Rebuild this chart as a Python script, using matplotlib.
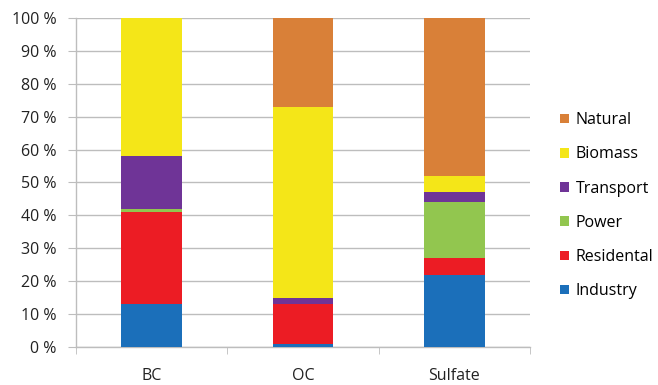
import matplotlib
matplotlib.use("Agg")
import matplotlib.pyplot as plt
import numpy as np
from matplotlib.patches import Patch

plt.rcParams['font.family'] = ['Open Sans', 'DejaVu Sans']

categories = ["BC", "OC", "Sulfate"]
sources = ["Industry", "Residental", "Power", "Transport", "Biomass", "Natural"]
industry = [13, 1, 22]
residental = [28, 12, 5]
power = [1, 0, 17]
transport = [16, 2, 3]
biomass = [42, 58, 5]
natural = [0, 27, 48]
series = [industry, residental, power, transport, biomass, natural]
colors = ["#1b6fba", "#ec1c24", "#92c64f", "#6f3497", "#f4e618", "#d98038"]

fig = plt.figure(figsize=(6.58, 3.85), dpi=100)
ax = fig.add_axes([0.1155, 0.099, 0.69, 0.854])

x = np.arange(len(categories))
bottom = np.zeros(len(categories))
for vals, col, name in zip(series, colors, sources):
    ax.bar(x, vals, width=0.4, bottom=bottom, color=col, label=name, zorder=3)
    bottom += np.array(vals)

grid_col = "#bdbdbd"
ax.set_ylim(0, 100)
ax.set_xlim(-0.5, 2.5)
ax.set_yticks(range(0, 101, 10))
ax.set_yticklabels(["%d %%" % v for v in range(0, 101, 10)], fontsize=11.5, color="#222222")
ax.yaxis.grid(True, color=grid_col, linewidth=1, zorder=0)
ax.set_axisbelow(True)

ax.set_xticks(x)
ax.set_xticklabels(categories, fontsize=11.5, color="#222222")
ax.set_xticks([-0.5, 0.5, 1.5, 2.5], minor=True)
ax.tick_params(axis="x", which="major", length=0, pad=15)
ax.tick_params(axis="x", which="minor", length=5, color=grid_col, direction="out")
ax.tick_params(axis="y", length=6, color=grid_col, direction="out", pad=8)

for s in ["top", "right"]:
    ax.spines[s].set_visible(False)
for s in ["left", "bottom"]:
    ax.spines[s].set_color(grid_col)
    ax.spines[s].set_linewidth(1)

handles = [Patch(facecolor=c, edgecolor="none") for c in colors][::-1]
labels = sources[::-1]
fig.legend(handles, labels, loc="upper left", bbox_to_anchor=(0.842, 0.725),
           frameon=False, fontsize=11.5, handlelength=0.55, handleheight=0.55,
           handletextpad=0.4, labelspacing=1.14, borderaxespad=0)

fig.savefig("out.png", dpi=100)
